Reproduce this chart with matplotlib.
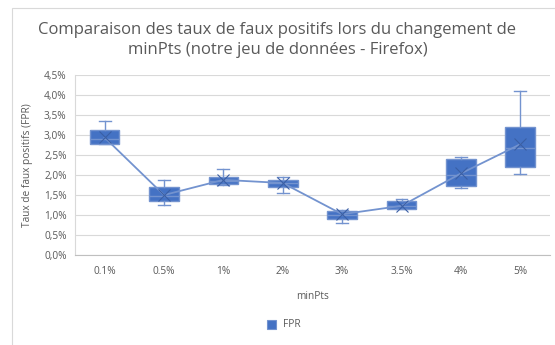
import matplotlib
matplotlib.use('Agg')
import matplotlib.pyplot as plt
from matplotlib.patches import Rectangle
import numpy as np

plt.rcParams['font.family'] = ['Open Sans', 'DejaVu Sans']

categories = ['0.1%', '0.5%', '1%', '2%', '3%', '3.5%', '4%', '5%']
whislo = [2.76, 1.23, 1.75, 1.55, 0.80, 1.13, 1.66, 2.02]
q1     = [2.77, 1.34, 1.77, 1.68, 0.88, 1.13, 1.72, 2.18]
med    = [2.90, 1.47, 1.85, 1.78, 0.99, 1.22, 1.99, 2.67]
q3     = [3.12, 1.69, 1.93, 1.87, 1.09, 1.33, 2.38, 3.18]
whishi = [3.34, 1.87, 2.15, 1.95, 1.12, 1.40, 2.45, 4.09]
means  = [2.93, 1.49, 1.87, 1.79, 1.01, 1.22, 2.03, 2.76]
yticks = [0, 0.5, 1.0, 1.5, 2.0, 2.5, 3.0, 3.5, 4.0, 4.5]

grey = '#595959'
blue = '#4472C4'
light = '#7393CF'

fig = plt.figure(figsize=(5.55, 3.45), dpi=100)
ax = fig.add_axes([0.135, 0.262, 0.856, 0.5215])

# chart frame
fig.patches.append(Rectangle((12/555, -0.1), 1.0, 1 - 8/345 + 0.1, transform=fig.transFigure,
                             fill=False, edgecolor='#d9d9d9', linewidth=0.8))

stats = []
for i in range(len(categories)):
    stats.append(dict(whislo=whislo[i], q1=q1[i], med=med[i], q3=q3[i],
                      whishi=whishi[i], mean=means[i], fliers=[]))
pos = np.arange(len(categories))
ax.bxp(stats, positions=pos, widths=0.5, patch_artist=True, showmeans=False,
       boxprops=dict(facecolor=blue, edgecolor=light, linewidth=1.0),
       medianprops=dict(color=light, linewidth=1.0),
       whiskerprops=dict(color=light, linewidth=1.0),
       capprops=dict(color=light, linewidth=1.0), capwidths=0.2)
ax.plot(pos, means, color=light, linewidth=1.3, zorder=4)
ax.plot(pos, means, linestyle='none', marker='x', markersize=8, color='#3a5fa5',
        markeredgewidth=0.8, zorder=5)

ax.set_xlim(-0.5, len(categories) - 0.5)
ax.set_ylim(0, 4.5)
ax.set_yticks(yticks)
ax.set_yticklabels([('%.1f%%' % v).replace('.', ',') for v in yticks])
ax.set_xticks(pos)
ax.set_xticklabels(categories)
ax.tick_params(length=0, labelsize=7.3, labelcolor=grey, pad=8)
ax.tick_params(axis='y', pad=6)
ax.grid(axis='y', color='#d9d9d9', linewidth=0.8)
ax.set_axisbelow(True)
for s in ['top', 'right']:
    ax.spines[s].set_visible(False)
ax.spines['left'].set_color('#d9d9d9')
ax.spines['bottom'].set_color('#bfbfbf')

ax.set_xlabel('minPts', fontsize=7.3, color=grey, labelpad=10)
ax.set_ylabel('Taux de faux positifs (FPR)', fontsize=7.3, color=grey, labelpad=8)

fig.text(0.5, 1 - 40/345, 'Comparaison des taux de faux positifs lors du changement de\nminPts (notre jeu de données - Firefox)',
         ha='center', va='center', fontsize=12, color=grey, linespacing=1.35)

# legend
fig.patches.append(Rectangle((267/555, 1 - 329/345), 9/555, 9/345, transform=fig.transFigure,
                             facecolor=blue, edgecolor=light, linewidth=0.8))
fig.text(283/555, 1 - 324.5/345, 'FPR', fontsize=7.3, color=grey, va='center', ha='left')

fig.savefig('out.png', dpi=100, facecolor='white')
